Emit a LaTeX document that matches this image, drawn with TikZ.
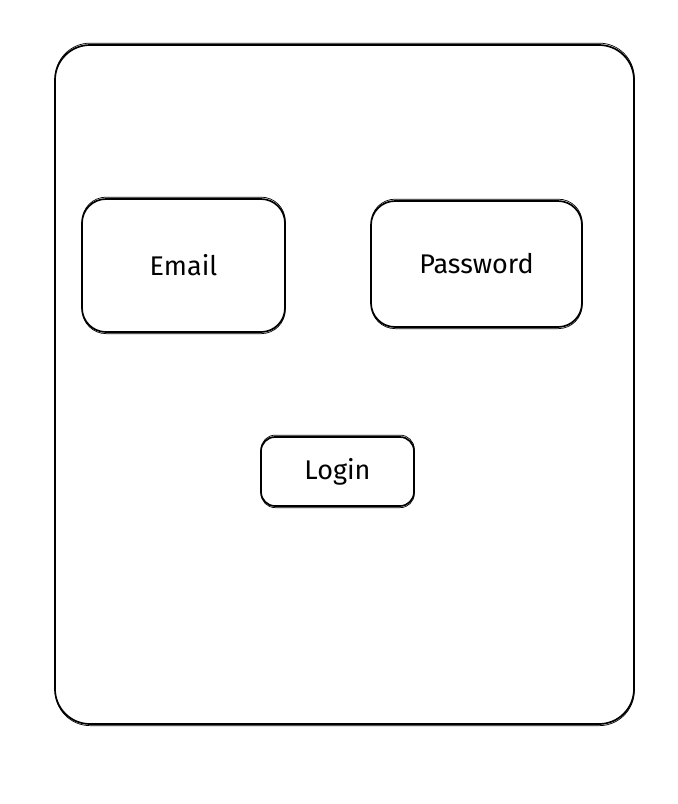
\documentclass[tikz,border=0pt]{standalone}
\usepackage{fontspec}
\setmainfont{Fira Sans}
\begin{document}
\begin{tikzpicture}[x=1pt,y=-1pt,
  sketch/.style={draw=black, line width=1.7pt, inner sep=0pt, font=\fontsize{27}{30}\selectfont},
  ghost/.style={draw=black, line width=0.7pt}]
  \useasboundingbox (0,0) rectangle (678,804);
  % outer frame
  \node[sketch, rounded corners=35pt, minimum width=579pt, minimum height=679pt] (frame) at (344.5,384.5) {};
  \draw[ghost, rounded corners=35pt] ([shift={(1pt,-0.8pt)}]frame.south west) rectangle ([shift={(-0.6pt,1pt)}]frame.north east);
  % input fields
  \node[sketch, rounded corners=24pt, minimum width=203pt, minimum height=133pt] (email) at (183.5,265.5) {Email};
  \draw[ghost, rounded corners=24pt] ([shift={(1pt,-0.8pt)}]email.south west) rectangle ([shift={(-0.6pt,1pt)}]email.north east);
  \node[sketch, rounded corners=24pt, minimum width=211pt, minimum height=126pt] (password) at (476.5,264) {Password};
  \draw[ghost, rounded corners=24pt] ([shift={(1pt,-0.8pt)}]password.south west) rectangle ([shift={(-0.6pt,1pt)}]password.north east);
  % button
  \node[sketch, rounded corners=14pt, minimum width=153pt, minimum height=69pt] (login) at (337.5,471.5) {Login};
  \draw[ghost, rounded corners=14pt] ([shift={(1pt,-0.8pt)}]login.south west) rectangle ([shift={(-0.6pt,1pt)}]login.north east);
\end{tikzpicture}
\end{document}
